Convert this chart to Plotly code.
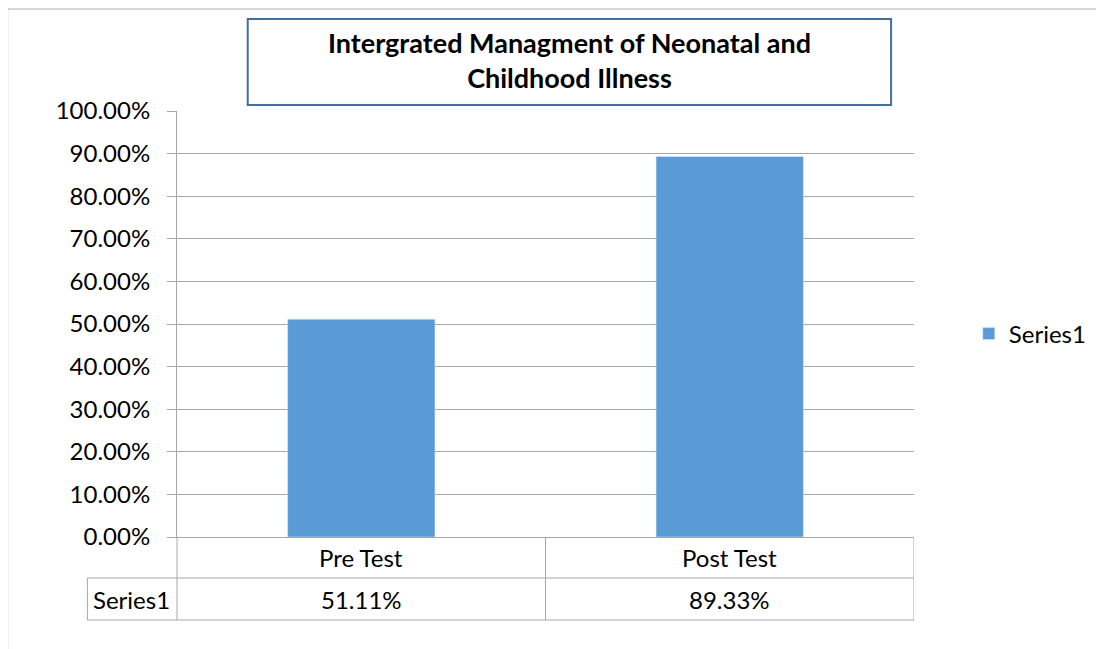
import plotly.graph_objects as go

# data
categories = ["Pre Test", "Post Test"]
series_name = "Series1"
values = [0.5111, 0.8933]
tick_vals = [i / 10 for i in range(11)]
tick_text = ["%.2f%%" % (v * 100) for v in tick_vals]
title_lines = ["Intergrated Managment of Neonatal and", "Childhood Illness"]

BAR_COLOR = "#5B9BD5"
GRID_COLOR = "#A6A6A6"
FONT = "Lato, Calibri, sans-serif"

OFF = 8  # the page body margin pushes the figure by 8px
W, H = 1104 - OFF, 649 - OFF
L, R, T, B = 177, 917, 111, 537  # plot area in page pixels

fig = go.Figure()
fig.add_trace(go.Bar(x=categories, y=values, name=series_name,
                     marker_color=BAR_COLOR, width=0.4, showlegend=True))


def py(pix):
    # page pixel row -> paper y
    return (B - pix) / (B - T)


def px(pix):
    return (pix - L) / (R - L)


shapes = []
line = dict(color=GRID_COLOR, width=1)

# outer chart border (left + top)
shapes.append(dict(type="line", xref="paper", yref="paper", x0=px(7), x1=px(1110),
                   y0=py(9), y1=py(9), line=dict(color="#B0B0B0", width=1)))
shapes.append(dict(type="line", xref="paper", yref="paper", x0=px(7), x1=px(7),
                   y0=py(9), y1=py(660), line=dict(color="#B0B0B0", width=1)))

# title box
shapes.append(dict(type="rect", xref="paper", yref="paper", x0=px(248), x1=px(894),
                   y0=py(105), y1=py(19), line=dict(color="#41719C", width=2),
                   fillcolor="white"))

# data table below the axis
row1, row2 = 578, 620
shapes.append(dict(type="line", xref="paper", yref="paper", x0=px(87), x1=1,
                   y0=py(row1), y1=py(row1), line=line))
shapes.append(dict(type="line", xref="paper", yref="paper", x0=px(87), x1=1,
                   y0=py(row2), y1=py(row2), line=line))
shapes.append(dict(type="line", xref="paper", yref="paper", x0=px(87), x1=px(87),
                   y0=py(row1), y1=py(row2), line=line))
shapes.append(dict(type="line", xref="paper", yref="paper", x0=0, x1=0,
                   y0=0, y1=py(row2), line=line))
for k in range(len(categories)):
    shapes.append(dict(type="line", xref="x", yref="paper", x0=k + 0.5, x1=k + 0.5,
                       y0=0, y1=py(row2), line=line))

annotations = []
annotations.append(dict(xref="paper", yref="paper", x=px(571), y=py(60),
                        text="<b>" + "<br>".join(title_lines) + "</b>",
                        showarrow=False, font=dict(family=FONT, size=27, color="black"),
                        align="center", xanchor="center", yanchor="middle"))
cell_font = dict(family=FONT, size=24, color="black")
for k, (c, v) in enumerate(zip(categories, values)):
    annotations.append(dict(xref="x", yref="paper", x=k, y=py((B + row1) / 2),
                            text=c, showarrow=False, font=cell_font,
                            xanchor="center", yanchor="middle"))
    annotations.append(dict(xref="x", yref="paper", x=k, y=py((row1 + row2) / 2),
                            text="%.2f%%" % (v * 100), showarrow=False, font=cell_font,
                            xanchor="center", yanchor="middle"))
annotations.append(dict(xref="paper", yref="paper", x=px(131), y=py((row1 + row2) / 2),
                        text=series_name, showarrow=False, font=cell_font,
                        xanchor="center", yanchor="middle"))

fig.update_layout(
    width=W, height=H,
    margin=dict(l=L - OFF, r=W - (R - OFF), t=T - OFF, b=H - (B - OFF), pad=0),
    paper_bgcolor="white", plot_bgcolor="white",
    font=dict(family=FONT, size=24, color="black"),
    xaxis=dict(showticklabels=False, showgrid=False, zeroline=False,
               showline=True, linecolor=GRID_COLOR, linewidth=1,
               range=[-0.5, len(categories) - 0.5]),
    yaxis=dict(range=[0, 1], tickvals=tick_vals, ticktext=tick_text,
               showgrid=True, gridcolor=GRID_COLOR, gridwidth=1,
               showline=True, linecolor=GRID_COLOR, linewidth=1,
               ticks="outside", ticklen=9, tickcolor=GRID_COLOR,
               zeroline=False, tickfont=dict(family=FONT, size=24), ticklabelstandoff=12),
    showlegend=True,
    legend=dict(x=px(972), y=py(334), xanchor="left", yanchor="middle",
                font=dict(family=FONT, size=24), itemwidth=30, bgcolor="rgba(0,0,0,0)"),
    shapes=shapes,
    annotations=annotations,
)

fig.write_html("out.html")
